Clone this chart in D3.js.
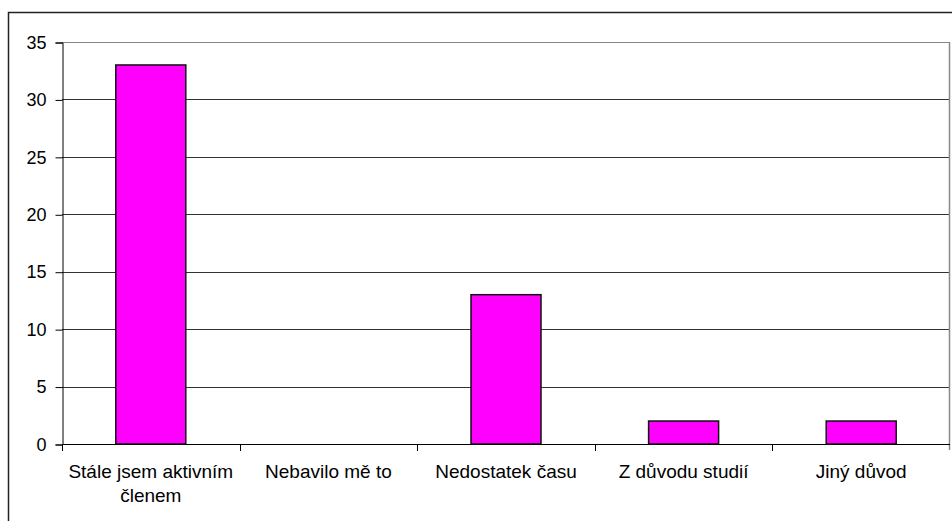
<!DOCTYPE html>
<html>
<head>
<meta charset="utf-8">
<script src="https://cdn.jsdelivr.net/npm/d3@7"></script>
<style>
  html, body { margin: 0; padding: 0; background: #fff; }
  svg { display: block; font-family: "Liberation Sans", Arial, sans-serif; }
</style>
</head>
<body>
<svg width="952" height="521"></svg>
<script>
"use strict";

// kategorie a hodnoty
const categories = ["Stále jsem aktivním členem", "Nebavilo mě to", "Nedostatek času", "Z důvodu studií", "Jiný důvod"];
const counts = [33, 0, 13, 2, 2];
const yTicks = [0, 5, 10, 15, 20, 25, 30, 35];

const svg = d3.select("svg");
const plotLeft = 62, plotRight = 950, plotTop = 42, plotBottom = 444;

const xScale = d3.scaleBand().domain(categories).range([plotLeft, plotRight]).padding(0);
const yScale = d3.scaleLinear().domain([0, 35]).range([plotBottom, plotTop]);

// vnější rámeček grafu (přesahuje obrázek vpravo a dole)
svg.append("rect")
  .attr("x", 8.5).attr("y", 12.5)
  .attr("width", 1000).attr("height", 1000)
  .attr("fill", "none")
  .attr("stroke", "#222")
  .attr("stroke-width", 1.5);

// mřížka
svg.append("g")
  .selectAll("line")
  .data(yTicks.filter((d) => d > 0))
  .enter()
  .append("line")
  .attr("x1", plotLeft).attr("x2", plotRight)
  .attr("y1", (d) => Math.round(yScale(d)) + 0.5)
  .attr("y2", (d) => Math.round(yScale(d)) + 0.5)
  .attr("stroke", "#333");

// pravý a horní okraj plochy grafu
svg.append("line")
  .attr("x1", plotRight - 0.5).attr("x2", plotRight - 0.5)
  .attr("y1", plotTop).attr("y2", plotBottom + 6)
  .attr("stroke", "#888")
  .attr("stroke-width", 1.5);
svg.append("line")
  .attr("x1", plotLeft).attr("x2", plotRight)
  .attr("y1", plotTop + 0.5).attr("y2", plotTop + 0.5)
  .attr("stroke", "#888");

// sloupce
const barW = 70;
svg.append("g")
  .selectAll("rect")
  .data(counts)
  .enter()
  .append("rect")
  .attr("x", (d, i) => xScale(categories[i]) + (xScale.bandwidth() - barW) / 2)
  .attr("y", (d) => yScale(d))
  .attr("width", barW)
  .attr("height", (d) => plotBottom - yScale(d))
  .attr("fill", "#ff00ff")
  .attr("stroke", (d) => (d > 0 ? "#111" : "none"))
  .attr("stroke-width", 1.5);

// osa y
const yAxis = d3.axisLeft(yScale).tickValues(yTicks).tickSize(7).tickPadding(9);
const yG = svg.append("g")
  .attr("transform", `translate(${plotLeft + 0.5}, 0.5)`)
  .call(yAxis);
yG.select(".domain").attr("stroke", "#000");
yG.selectAll(".tick line").attr("stroke", "#000");
yG.selectAll(".tick text")
  .attr("font-family", "Liberation Sans, Arial, sans-serif")
  .attr("font-size", 18)
  .attr("fill", "#000");

// osa x
svg.append("line")
  .attr("x1", plotLeft).attr("x2", plotRight)
  .attr("y1", plotBottom + 0.5).attr("y2", plotBottom + 0.5)
  .attr("stroke", "#000");

const boundaries = categories.map((c) => xScale(c));
svg.append("g")
  .selectAll("line")
  .data(boundaries)
  .enter()
  .append("line")
  .attr("x1", (d) => Math.round(d) + 0.5)
  .attr("x2", (d) => Math.round(d) + 0.5)
  .attr("y1", plotBottom)
  .attr("y2", plotBottom + 7)
  .attr("stroke", "#000");

// popisky kategorií se zalamováním
const labels = svg.append("g")
  .selectAll("text")
  .data(categories)
  .enter()
  .append("text")
  .attr("x", (d) => xScale(d) + xScale.bandwidth() / 2)
  .attr("y", 477.5)
  .attr("text-anchor", "middle")
  .attr("font-size", 19)
  .attr("fill", "#000");

labels.each(function (d) {
  const t = d3.select(this);
  const cx = xScale(d) + xScale.bandwidth() / 2;
  const words = d.split(" ");
  let line = [];
  let tspan = t.append("tspan").attr("x", cx).attr("dy", 0);
  words.forEach((w) => {
    line.push(w);
    tspan.text(line.join(" "));
    if (tspan.node().getComputedTextLength() > 174 && line.length > 1) {
      line.pop();
      tspan.text(line.join(" "));
      line = [w];
      tspan = t.append("tspan").attr("x", cx).attr("dy", 24).text(w);
    }
  });
});
</script>
</body>
</html>
